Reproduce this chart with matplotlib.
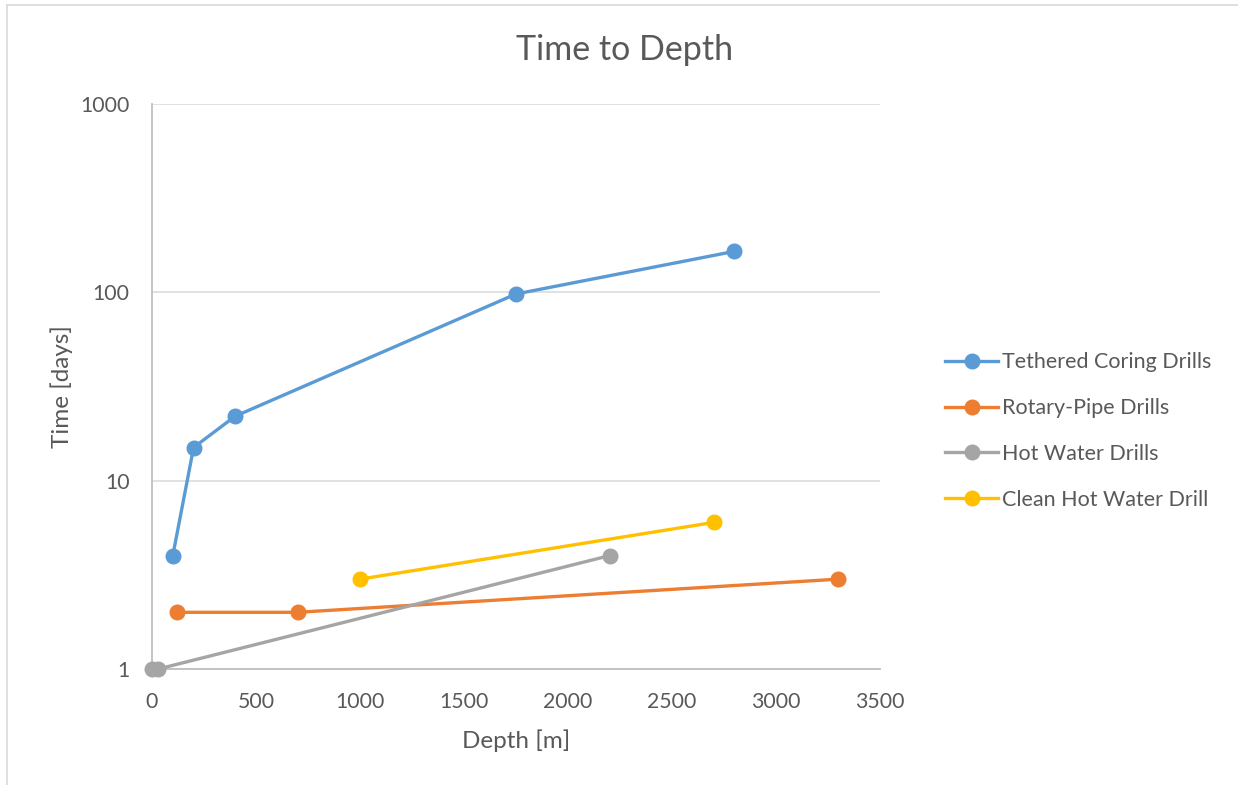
import matplotlib.pyplot as plt
from matplotlib.lines import Line2D

# Data
tethered_depth = [100, 200, 400, 1750, 2800]
tethered_time = [4, 15, 22, 98, 165]

rotary_depth = [120, 700, 3300]
rotary_time = [2, 2, 3]

hotwater_depth = [0, 30, 2200]
hotwater_time = [1, 1, 4]

clean_depth = [1000, 2700]
clean_time = [3, 6]

x_ticks = [0, 500, 1000, 1500, 2000, 2500, 3000, 3500]
y_ticks = [1, 10, 100, 1000]

txt = '#595959'
plt.rcParams['font.family'] = ['Lato', 'DejaVu Sans']

fig = plt.figure(figsize=(12.38, 7.85), dpi=100)
ax = fig.add_axes([152 / 1238, 1 - 669 / 785, (880 - 152) / 1238, (669 - 104) / 785])

series = [
    (tethered_depth, tethered_time, '#5B9BD5', 'Tethered Coring Drills'),
    (rotary_depth, rotary_time, '#ED7D31', 'Rotary-Pipe Drills'),
    (hotwater_depth, hotwater_time, '#A5A5A5', 'Hot Water Drills'),
    (clean_depth, clean_time, '#FFC000', 'Clean Hot Water Drill'),
]
for xs, ys, c, name in series:
    ax.plot(xs, ys, '-o', color=c, lw=2.4, ms=10.5, label=name, clip_on=False, zorder=3)

ax.set_yscale('log')
ax.set_xlim(0, 3500)
ax.set_ylim(1, 1000)
ax.set_xticks(x_ticks)
ax.set_xticklabels([str(v) for v in x_ticks])
ax.set_yticks(y_ticks)
ax.set_yticklabels([str(v) for v in y_ticks])
ax.yaxis.set_minor_locator(plt.NullLocator())
ax.tick_params(length=0, labelsize=15.3, labelcolor=txt)
ax.tick_params(axis='x', pad=16.5)
ax.tick_params(axis='y', pad=16)
ax.grid(axis='y', color='#D9D9D9', lw=1.1)
ax.set_axisbelow(True)
for s in ['top', 'right']:
    ax.spines[s].set_visible(False)
for s in ['left', 'bottom']:
    ax.spines[s].set_color('#BFBFBF')
    ax.spines[s].set_linewidth(1.3)

ax.set_xlabel('Depth [m]', fontsize=17.5, color=txt, labelpad=12.5)
ax.set_ylabel('Time [days]', fontsize=17.5, color=txt, labelpad=5)
fig.text(625 / 1238, 1 - 50 / 785, 'Time to Depth', fontsize=24.5, color=txt,
         ha='center', va='center')

leg = ax.legend(loc='center left', bbox_to_anchor=(926 / 1238, 1 - 431 / 785),
                bbox_transform=fig.transFigure, frameon=False, fontsize=15.5,
                labelspacing=1.2, handlelength=2.45, handletextpad=0.2)
for t in leg.get_texts():
    t.set_color(txt)

# chart frame (cropped on right and bottom)
fig.add_artist(Line2D([7 / 1238, 7 / 1238], [0, 1 - 5 / 785], transform=fig.transFigure,
                      color='#D9D9D9', lw=1.2))
fig.add_artist(Line2D([7 / 1238, 1], [1 - 5 / 785, 1 - 5 / 785], transform=fig.transFigure,
                      color='#D9D9D9', lw=1.2))

fig.savefig('out.png', dpi=100)
